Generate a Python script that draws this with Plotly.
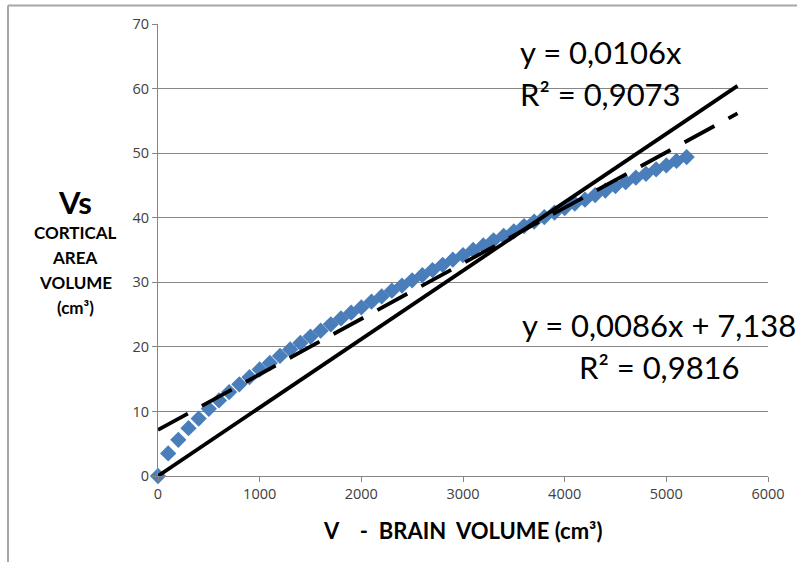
import plotly.graph_objects as go

# ---- data ----
brain_volume = [0, 100, 200, 300, 400, 500, 600, 700, 800, 900,
                1000, 1100, 1200, 1300, 1400, 1500, 1600, 1700, 1800, 1900,
                2000, 2100, 2200, 2300, 2400, 2500, 2600, 2700, 2800, 2900,
                3000, 3100, 3200, 3300, 3400, 3500, 3600, 3700, 3800, 3900,
                4000, 4100, 4200, 4300, 4400, 4500, 4600, 4700, 4800, 4900,
                5000, 5100, 5200]
cortical_volume = [0, 3.5, 5.6, 7.4, 8.9, 10.4, 11.7, 13.0, 14.2, 15.3,
                   16.5, 17.5, 18.6, 19.6, 20.6, 21.6, 22.5, 23.5, 24.4, 25.3,
                   26.1, 27.0, 27.8, 28.7, 29.5, 30.3, 31.1, 31.9, 32.7, 33.5,
                   34.2, 35.0, 35.7, 36.5, 37.2, 37.9, 38.7, 39.4, 40.1, 40.8,
                   41.5, 42.2, 42.8, 43.5, 44.2, 44.9, 45.5, 46.2, 46.8, 47.5,
                   48.1, 48.8, 49.4]

trend_x = [0, 5700]
origin_slope = 0.0106
linear_slope = 0.0086
linear_intercept = 7.138

x_ticks = [0, 1000, 2000, 3000, 4000, 5000, 6000]
y_ticks = [0, 10, 20, 30, 40, 50, 60, 70]

# ---- layout geometry (pixels) ----
W, H = 797, 562
L, R, T, B = 158, 768, 24, 476


def px(x):
    return (x - L) / (R - L)


def py(y):
    return (B - y) / (B - T)


fig = go.Figure()

fig.add_trace(go.Scatter(
    x=brain_volume, y=cortical_volume, mode="markers",
    marker=dict(symbol="diamond", size=12.5, color="#4A7EBB", line=dict(width=0)),
    cliponaxis=False, showlegend=False))

fig.add_trace(go.Scatter(
    x=trend_x, y=[origin_slope * v for v in trend_x], mode="lines",
    line=dict(color="black", width=3.8), showlegend=False))

fig.add_trace(go.Scatter(
    x=trend_x, y=[linear_slope * v + linear_intercept for v in trend_x], mode="lines",
    line=dict(color="black", width=3.8, dash="34px,16px"), showlegend=False))

axis_gray = "#868686"
tick_font = dict(family="Open Sans", size=14.5, color="#404040")

fig.update_xaxes(range=[0, 6000], tickvals=x_ticks, showgrid=False, zeroline=False,
                 showline=True, linecolor=axis_gray, linewidth=1,
                 ticks="outside", ticklen=5, tickcolor=axis_gray,
                 tickfont=tick_font, fixedrange=True)
fig.update_yaxes(range=[0, 70], tickvals=y_ticks, showgrid=True, gridcolor=axis_gray,
                 gridwidth=1, zeroline=False, showline=True, linecolor=axis_gray,
                 linewidth=1, ticks="outside", ticklen=5, tickcolor=axis_gray,
                 tickfont=tick_font, fixedrange=True)

ann = []


def text(x, y, s, size, bold=False, xanchor="center", color="black"):
    ann.append(dict(x=px(x), y=py(y), xref="paper", yref="paper", text=s,
                    showarrow=False, xanchor=xanchor, yanchor="middle",
                    font=dict(family="Lato", size=size, color=color,
                              weight="bold" if bold else "normal")))


text(75, 202, "Vs", 31, bold=True)
text(75, 232, "CORTICAL", 17, bold=True)
text(75, 257, "AREA", 17, bold=True)
text(75, 282, "VOLUME", 17, bold=True)
text(75, 307, "(cm³)", 17, bold=True)

text(462, 530, "V &nbsp;&nbsp; - &nbsp;BRAIN &nbsp;VOLUME (cm³)", 22, bold=True)

text(518, 52, "y = 0,0106x", 31, xanchor="left")
text(518, 94, "R² = 0,9073", 31, xanchor="left")
text(520, 325, "y = 0,0086x + 7,138", 31, xanchor="left")
text(577, 367, "R² = 0,9816", 31, xanchor="left")

shapes = [
    dict(type="line", xref="paper", yref="paper", x0=px(8), x1=px(8), y0=py(5.5), y1=py(570),
         line=dict(color="#A6A6A6", width=2)),
    dict(type="line", xref="paper", yref="paper", x0=px(8), x1=px(805), y0=py(5.5), y1=py(5.5),
         line=dict(color="#A6A6A6", width=2)),
]

fig.update_layout(width=W, height=H, margin=dict(l=L, r=W - R, t=T, b=H - B),
                  plot_bgcolor="white", paper_bgcolor="white",
                  annotations=ann, shapes=shapes, showlegend=False)

fig.write_html("out.html", config={"displayModeBar": False},
               post_script="document.body.style.margin='0';document.body.style.overflow='hidden';")
